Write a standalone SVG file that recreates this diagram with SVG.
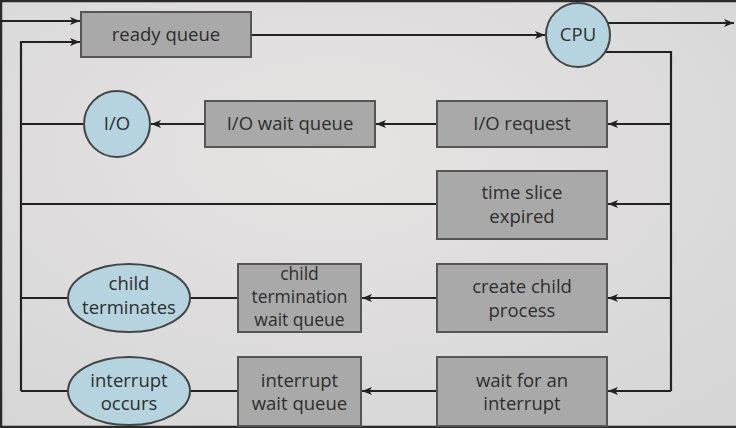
<svg xmlns="http://www.w3.org/2000/svg" width="736" height="428" viewBox="0 0 736 428">
<defs>
<radialGradient id="bg" cx="0.45" cy="0.35" r="0.8">
<stop offset="0" stop-color="#e6e3e3"/>
<stop offset="1" stop-color="#d6d6d6"/>
</radialGradient>
<marker id="ah" viewBox="0 0 10 8" refX="10" refY="4" markerWidth="10" markerHeight="8" markerUnits="userSpaceOnUse" orient="auto">
<path d="M0,0 L10,4 L0,8 L2.5,4 Z" fill="#222"/>
</marker>
<style>
.box{fill:#a9a9a9;stroke:#555;stroke-width:2}
.oval{fill:#b6d4df;stroke:#444;stroke-width:2}
.ln{fill:none;stroke:#222;stroke-width:2.2}
.ar{marker-end:url(#ah)}
text{font-family:"Open Sans","Noto Sans","DejaVu Sans",sans-serif;font-size:18.5px;fill:#2e2e2e;text-anchor:middle}
.sm{font-size:17.5px}
</style>
</defs>
<rect x="0" y="0" width="736" height="428" fill="url(#bg)"/>
<path d="M0,1 H736 M1,0 V428 M0,427 H736" fill="none" stroke="#2a2a2a" stroke-width="2.5"/>
<g id="connectors">
<path class="ln ar" d="M0,21 H80"/>
<path class="ln ar" d="M21,391 V42 H80"/>
<path class="ln ar" d="M251,35 H545"/>
<path class="ln ar" d="M607,23 H734"/>
<path class="ln" d="M605,52 H671 V391"/>
<path class="ln ar" d="M671,124 H608"/>
<path class="ln ar" d="M671,204 H608"/>
<path class="ln ar" d="M671,298 H608"/>
<path class="ln ar" d="M671,391 H608"/>
<path class="ln ar" d="M437,124 H376"/>
<path class="ln ar" d="M205,124 H151"/>
<path class="ln" d="M85,124 H21"/>
<path class="ln" d="M437,204 H21"/>
<path class="ln ar" d="M437,298 H362"/>
<path class="ln" d="M238,298 H190"/>
<path class="ln" d="M68,298 H21"/>
<path class="ln ar" d="M437,391 H362"/>
<path class="ln" d="M238,391 H190"/>
<path class="ln" d="M68,391 H21"/>
</g>
<g id="ready-queue"><rect class="box" x="81" y="12" width="170" height="45"/><text x="166" y="41">ready queue</text></g>
<g id="cpu"><circle class="oval" cx="578" cy="35" r="32"/><text x="578" y="41">CPU</text></g>
<g id="io"><circle class="oval" cx="117" cy="124" r="33"/><text x="117" y="130">I/O</text></g>
<g id="io-wait-queue"><rect class="box" x="205" y="101" width="170" height="46"/><text x="290" y="130">I/O wait queue</text></g>
<g id="io-request"><rect class="box" x="437" y="101" width="170" height="46"/><text x="522" y="130">I/O request</text></g>
<g id="time-slice"><rect class="box" x="437" y="171" width="170" height="68"/><text x="522" y="199">time slice</text><text x="522" y="223">expired</text></g>
<g id="create-child"><rect class="box" x="437" y="264" width="170" height="68"/><text x="522" y="293">create child</text><text x="522" y="317">process</text></g>
<g id="wait-interrupt"><rect class="box" x="437" y="357" width="170" height="69"/><text x="522" y="387">wait for an</text><text x="522" y="410">interrupt</text></g>
<g id="child-termination-wait-queue"><rect class="box" x="238" y="264" width="123" height="68"/><text class="sm" x="299.5" y="280">child</text><text class="sm" x="299.5" y="303">termination</text><text class="sm" x="299.5" y="326">wait queue</text></g>
<g id="interrupt-wait-queue"><rect class="box" x="238" y="357" width="123" height="69"/><text x="299.5" y="387">interrupt</text><text x="299.5" y="410">wait queue</text></g>
<g id="child-terminates"><ellipse class="oval" cx="129" cy="298" rx="61" ry="34"/><text x="129" y="290">child</text><text x="129" y="314">terminates</text></g>
<g id="interrupt-occurs"><ellipse class="oval" cx="129" cy="391" rx="61" ry="34"/><text x="129" y="387">interrupt</text><text x="129" y="410">occurs</text></g>
</svg>
